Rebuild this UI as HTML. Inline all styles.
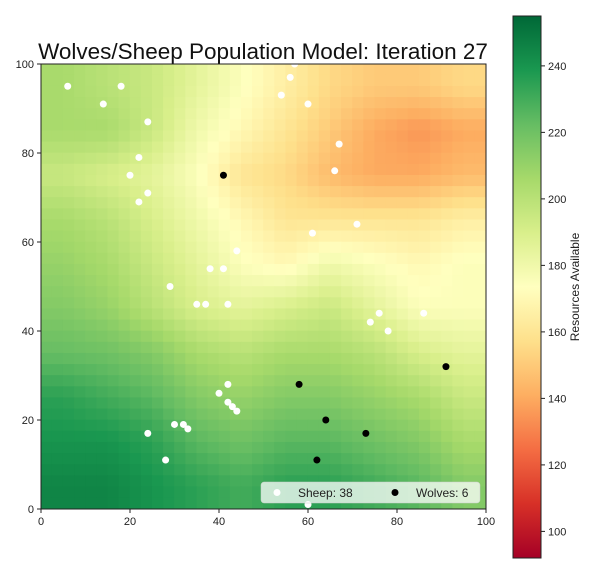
<!DOCTYPE html>
<html><head><meta charset="utf-8"><style>
body{margin:0;background:#fff;font-family:"Liberation Sans","DejaVu Sans",sans-serif}
svg text{font-family:"Liberation Sans","DejaVu Sans",sans-serif}
</style></head><body>
<svg id="chart" width="600" height="576" xmlns="http://www.w3.org/2000/svg">
<text x="263" y="59" font-size="22.5" text-anchor="middle" fill="#111">Wolves/Sheep Population Model: Iteration 27</text>
<clipPath id="pc"><rect x="41" y="64" width="445" height="445"/></clipPath>
<g id="heat" clip-path="url(#pc)"></g>
<g id="marks" clip-path="url(#pc)"></g>
<rect x="41" y="64" width="445" height="445" fill="none" stroke="#222" stroke-width="1"/>
<g id="axes"></g>
<g id="legend">
<rect x="261" y="482" width="219" height="21" rx="3" fill="#fff" fill-opacity="0.75" stroke="#ccc" stroke-width="0.5"/>
<circle cx="277" cy="492.5" r="3.5" fill="#fff"/>
<text x="298" y="497" font-size="12" fill="#222">Sheep: 38</text>
<circle cx="395" cy="492.5" r="3.5" fill="#000"/>
<text x="416" y="497" font-size="12" fill="#222">Wolves: 6</text>
</g>
<defs><linearGradient id="cbg" x1="0" y1="1" x2="0" y2="0">
<stop offset="0" stop-color="#a50026"/><stop offset="0.1" stop-color="#d73027"/><stop offset="0.2" stop-color="#f46d43"/><stop offset="0.3" stop-color="#fdae61"/><stop offset="0.4" stop-color="#fee08b"/><stop offset="0.5" stop-color="#ffffbf"/><stop offset="0.6" stop-color="#d9ef8b"/><stop offset="0.7" stop-color="#a6d96a"/><stop offset="0.8" stop-color="#66bd63"/><stop offset="0.9" stop-color="#1a9850"/><stop offset="1" stop-color="#006837"/>
</linearGradient></defs>
<rect x="513" y="16" width="28" height="542" fill="url(#cbg)" stroke="#222" stroke-width="1"/>
<g id="cbaxis"></g>
<text transform="translate(579,287) rotate(-90)" font-size="12" text-anchor="middle" fill="#222">Resources Available</text>
</svg>
<script>
const gridRows = [
 [205,200,195,185,175,165,155,150,150,155],
 [205,205,195,180,170,160,150,140,135,140],
 [195,190,185,175,160,155,145,140,140,145],
 [205,200,190,180,170,160,160,160,160,165],
 [210,205,195,185,175,170,180,175,170,175],
 [215,210,200,190,185,190,195,185,175,175],
 [222,220,215,205,200,205,205,200,190,185],
 [235,230,225,215,210,215,215,210,205,195],
 [240,240,235,225,220,225,225,220,215,205],
 [245,245,240,235,230,235,235,230,225,215]
];
const sheepX = [6,14,18,24,22,20,24,22,67,66,71,61,56,54,60,44,38,29,35,37,42,76,74,78,86,42,40,42,44,24,30,32,33,28,60,41,57,43];
const sheepY = [95,91,95,87,79,75,71,69,82,76,64,62,97,93,91,58,54,50,46,46,46,44,42,40,44,28,26,24,22,17,19,19,18,11,1,54,100,23];
const wolvesX = [41,58,64,73,91,62];
const wolvesY = [75,28,20,17,32,11];
const axisTicks = [0,20,40,60,80,100];
const cbTicks = [100,120,140,160,180,200,220,240];
const vmin = 92, vmax = 255;

const NS = "http://www.w3.org/2000/svg";
const xs = v => 41 + v * 4.45;
const ys = v => 509 - v * 4.45;
const cbY = v => 558 - (v - vmin) / (vmax - vmin) * 542;
const stops = [[165,0,38],[215,48,39],[244,109,67],[253,174,97],[254,224,139],[255,255,191],[217,239,139],[166,217,106],[102,189,99],[26,152,80],[0,104,55]];
function cmap(v){
  let t = Math.max(0, Math.min(1, (v - vmin) / (vmax - vmin))) * 10;
  let i = Math.min(9, Math.floor(t)), f = t - i;
  const a = stops[i], b = stops[i+1];
  return `rgb(${a.map((c,k)=>Math.round(c+(b[k]-c)*f)).join(",")})`;
}
function mk(tag, attrs, parent){
  const e = document.createElementNS(NS, tag);
  for (const k in attrs) e.setAttribute(k, attrs[k]);
  parent.appendChild(e); return e;
}
const heat = document.getElementById("heat");
const n = gridRows.length, m = gridRows[0].length, sub = 4;
function sample(gx, gy){
  gx = Math.max(0, Math.min(m-1, gx)); gy = Math.max(0, Math.min(n-1, gy));
  const x0 = Math.floor(gx), y0 = Math.floor(gy), x1 = Math.min(m-1,x0+1), y1 = Math.min(n-1,y0+1);
  const fx = gx-x0, fy = gy-y0;
  const top = gridRows[y0][x0]*(1-fx)+gridRows[y0][x1]*fx;
  const bot = gridRows[y1][x0]*(1-fx)+gridRows[y1][x1]*fx;
  return top*(1-fy)+bot*fy;
}
const cw = 100/(m*sub), chh = 100/(n*sub);
for (let r = 0; r < n*sub; r++) for (let c = 0; c < m*sub; c++){
  const gx = (c+0.5)/sub - 0.5, gy = (r+0.5)/sub - 0.5;
  const cell = mk("rect", {x: xs(c*cw)-0.3, y: ys(100 - r*chh)-0.3, width: cw*4.45+0.6, height: chh*4.45+0.6, fill: cmap(sample(gx,gy))}, heat);
  
  
}
const marks = document.getElementById("marks");
sheepX.forEach((x,i)=>{
  const c = mk("circle", {cx: xs(x), cy: ys(sheepY[i]), r: 3.5, fill: "#fff"}, marks);
  
  
});
wolvesX.forEach((x,i)=>{
  const c = mk("circle", {cx: xs(x), cy: ys(wolvesY[i]), r: 3.5, fill: "#000"}, marks);
  
  
});
const axes = document.getElementById("axes");
axisTicks.forEach(t=>{
  let l = mk("line", {x1: xs(t), x2: xs(t), y1: 509, y2: 513, stroke: "#222"}, axes);
  
  
  let tx = mk("text", {x: xs(t), y: 525, "font-size": 11, "text-anchor": "middle", fill: "#222"}, axes);
  tx.textContent = t;
  
  
  l = mk("line", {x1: 37, x2: 41, y1: ys(t), y2: ys(t), stroke: "#222"}, axes);
  
  
  tx = mk("text", {x: 34, y: ys(t)+4, "font-size": 11, "text-anchor": "end", fill: "#222"}, axes);
  tx.textContent = t;
  
  
});
const cba = document.getElementById("cbaxis");
cbTicks.forEach(t=>{
  const l = mk("line", {x1: 541, x2: 545, y1: cbY(t), y2: cbY(t), stroke: "#222"}, cba);
  
  
  const tx = mk("text", {x: 548, y: cbY(t)+4, "font-size": 11, fill: "#222"}, cba);
  tx.textContent = t;
  
  
});
</script>
</body></html>
